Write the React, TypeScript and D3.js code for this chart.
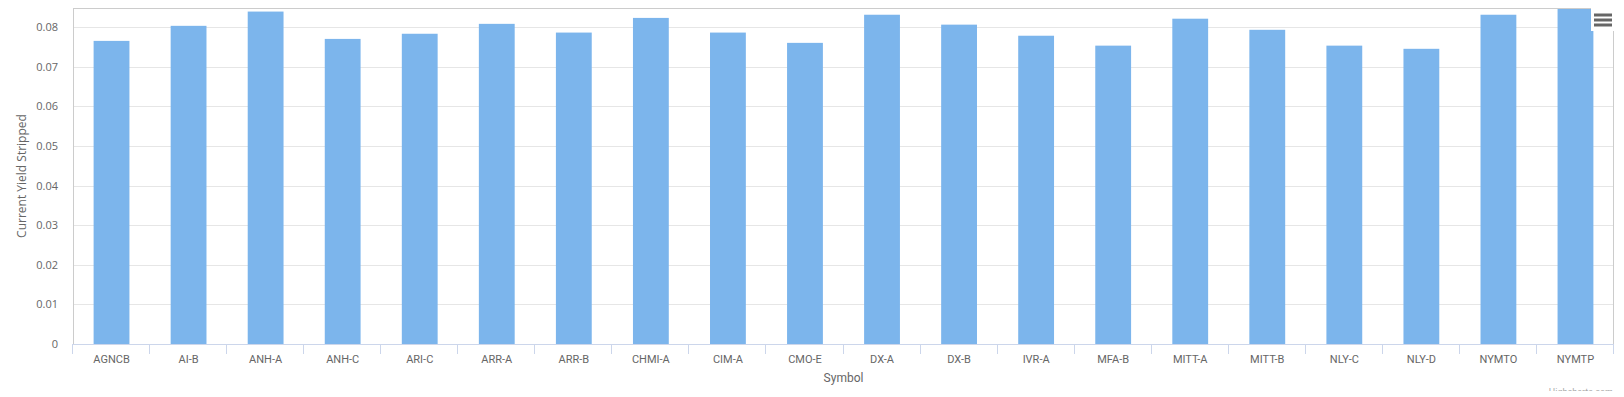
import React, { useEffect, useRef } from 'react';
import * as d3 from 'd3';

const symbols = [
  'AGNCB', 'AI-B', 'ANH-A', 'ANH-C', 'ARI-C', 'ARR-A', 'ARR-B', 'CHMI-A', 'CIM-A', 'CMO-E',
  'DX-A', 'DX-B', 'IVR-A', 'MFA-B', 'MITT-A', 'MITT-B', 'NLY-C', 'NLY-D', 'NYMTO', 'NYMTP',
];
const currentYield = [
  0.0765, 0.0803, 0.0839, 0.0770, 0.0783, 0.0808, 0.0786, 0.0823, 0.0786, 0.0760,
  0.0831, 0.0806, 0.0778, 0.0753, 0.0821, 0.0793, 0.0753, 0.0745, 0.0831, 0.0856,
];
const yTicks = [0, 0.01, 0.02, 0.03, 0.04, 0.05, 0.06, 0.07, 0.08];

const W = 1624;
const H = 397;
const left = 73;
const right = 1614;
const top = 8;
const bottom = 344;

export default function App() {
  const ref = useRef<SVGSVGElement>(null);

  useEffect(() => {
    const svg = d3.select(ref.current);
    svg.selectAll('*').remove();

    const x = d3.scaleBand<string>().domain(symbols).range([left, right]).padding(0);
    const y = d3.scaleLinear().domain([0, 0.0848]).range([bottom, top]);
    const barW = x.bandwidth() * 0.465;

    // grid
    svg.append('g')
      .selectAll('line')
      .data(yTicks)
      .enter()
      .append('line')
        .attr('x1', left)
        .attr('x2', right)
        .attr('y1', d => Math.round(y(d)) + 0.5)
        .attr('y2', d => Math.round(y(d)) + 0.5)
        .attr('stroke', '#e6e6e6')
        .attr('stroke-width', 1);

    svg.append('clipPath')
      .attr('id', 'plot-clip')
      .append('rect')
        .attr('x', left)
        .attr('y', top)
        .attr('width', right - left)
        .attr('height', bottom - top);

    svg.append('g')
      .attr('clip-path', 'url(#plot-clip)')
      .selectAll('rect')
      .data(currentYield)
      .enter()
      .append('rect')
        .attr('fill', '#7cb5ec')
        .attr('x', (d, i) => (x(symbols[i]) as number) + (x.bandwidth() - barW) / 2)
        .attr('width', barW)
        .attr('y', d => y(d))
        .attr('height', d => bottom - y(d));

    // plot border
    svg.append('rect')
      .attr('x', left + 0.5)
      .attr('y', top + 0.5)
      .attr('width', right - left - 1)
      .attr('height', bottom - top)
      .attr('fill', 'none')
      .attr('stroke', '#cccccc');

    // x axis line + ticks at category boundaries
    svg.append('line')
      .attr('x1', left)
      .attr('x2', right)
      .attr('y1', bottom + 0.5)
      .attr('y2', bottom + 0.5)
      .attr('stroke', '#ccd6eb');

    const bounds = symbols.map(s => x(s) as number).concat([right]);
    svg.append('g')
      .selectAll('line')
      .data(bounds)
      .enter()
      .append('line')
        .attr('x1', d => Math.round(d) - 0.5)
        .attr('x2', d => Math.round(d) - 0.5)
        .attr('y1', bottom)
        .attr('y2', bottom + 10)
        .attr('stroke', '#ccd6eb');

    svg.append('g')
      .selectAll('text')
      .data(symbols)
      .enter()
      .append('text')
        .attr('x', d => (x(d) as number) + x.bandwidth() / 2)
        .attr('y', bottom + 19)
        .attr('text-anchor', 'middle')
        .style('font', '11px Roboto, sans-serif')
        .style('fill', '#666666')
        .text(d => d);

    svg.append('text')
      .attr('x', (left + right) / 2)
      .attr('y', 382)
      .attr('text-anchor', 'middle')
      .style('font', '12px Roboto, sans-serif')
      .style('fill', '#666666')
      .text('Symbol');

    // y axis labels
    svg.append('g')
      .selectAll('text')
      .data(yTicks)
      .enter()
      .append('text')
        .attr('x', 58)
        .attr('y', d => y(d) + 4)
        .attr('text-anchor', 'end')
        .style('font', '11px "Open Sans", sans-serif')
        .style('fill', '#666666')
        .text(d => (d === 0 ? '0' : d3.format('.2f')(d)));

    svg.append('text')
      .attr('transform', `translate(26,${(top + bottom) / 2}) rotate(-90)`)
      .attr('text-anchor', 'middle')
      .style('font', '12px "Open Sans", sans-serif')
      .style('fill', '#666666')
      .text('Current Yield Stripped');

    // context menu button
    const menu = svg.append('g');
    menu.append('rect')
      .attr('x', 1591)
      .attr('y', 8)
      .attr('width', 23)
      .attr('height', 23)
      .attr('fill', '#ffffff');
    menu.selectAll('line')
      .data([15, 20, 25])
      .enter()
      .append('line')
        .attr('x1', 1594)
        .attr('x2', 1612)
        .attr('y1', d => d)
        .attr('y2', d => d)
        .attr('stroke', '#666666')
        .attr('stroke-width', 3);

    // credits, cut off at the bottom like the screenshot
    svg.append('clipPath')
      .attr('id', 'credit-clip')
      .append('rect')
        .attr('x', 1500)
        .attr('y', 380)
        .attr('width', 124)
        .attr('height', 11);
    svg.append('text')
      .attr('clip-path', 'url(#credit-clip)')
      .attr('x', 1613)
      .attr('y', 395)
      .attr('text-anchor', 'end')
      .style('font', '9px Roboto, sans-serif')
      .style('fill', '#aaaaaa')
      .text('Highcharts.com');
  }, []);

  return (
    <svg
      ref={ref}
      width={W}
      height={H}
      style={{ position: 'absolute', left: 0, top: 0, background: '#ffffff' }}
    ></svg>
  );
}
